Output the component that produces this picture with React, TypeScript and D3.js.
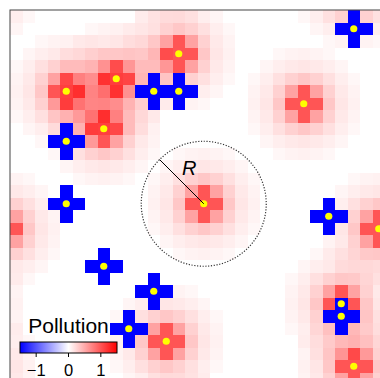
import React from "react";
import * as d3 from "d3";

// Grid: 30 x 30 toroidal cells
const N = 30;
// Polluting sources (red) – row / column of centre cell
const redRows = [3, 5, 6, 9, 7, 15, 17, 26, 23, 28];
const redCols = [13, 8, 4, 7, 23, 15, 29, 12, 26, 27];
// Cleaning sources (blue crosses)
const blueRows = [10, 6, 6, 1, 15, 20, 22, 25, 16, 24];
const blueCols = [4, 11, 13, 27, 4, 7, 11, 9, 25, 26];
// Pollution contribution of a source, read by squared cell distance
const kernelD2 = [0, 1, 2, 4, 5, 8, 9, 10, 13, 16, 17, 18, 20];
const kernelVal = [1.0, 1.0, 0.55, 0.33, 0.27, 0.18, 0.15, 0.13, 0.1, 0.08, 0.07, 0.06, 0.05];
const cleanValue = -1.5;
// Colour bar
const cbarDomain = [-1.5, 1.5];
const cbarTicks = [-1, 0, 1];
const radiusCells = 5;

const W = 380;
const H = 378;
const x0 = 10;
const y0 = 10;
const size = 375;
const font = "'Liberation Sans', Arial, Helvetica, sans-serif";

function torusDist(a: number, b: number) {
  const d = Math.abs(a - b);
  return Math.min(d, N - d);
}

export default function App() {
  const x = d3.scaleLinear().domain([0, N]).range([x0, x0 + size]);
  const y = d3.scaleLinear().domain([0, N]).range([y0, y0 + size]);
  const cell = x(1) - x(0);
  const color = d3
    .scaleLinear<string>()
    .domain([-1.5, 0, 1.5])
    .range(["#0000ff", "#ffffff", "#ff0000"])
    .interpolate(d3.interpolateRgb)
    .clamp(true);

  const kernel = new Map<number, number>();
  kernelD2.forEach((d2, i) => kernel.set(d2, kernelVal[i]));

  const field: number[][] = d3.range(N).map(() => d3.range(N).map(() => 0));
  for (let r = 0; r < N; r++) {
    for (let c = 0; c < N; c++) {
      let v = 0;
      redRows.forEach((rr, i) => {
        const dr = torusDist(r, rr);
        const dc = torusDist(c, redCols[i]);
        v += kernel.get(dr * dr + dc * dc) ?? 0;
      });
      field[r][c] = v;
    }
  }
  const plus = [
    [0, 0],
    [1, 0],
    [-1, 0],
    [0, 1],
    [0, -1],
  ];
  blueRows.forEach((br, i) => {
    plus.forEach(([dr, dc]) => {
      const r = (br + dr + N) % N;
      const c = (blueCols[i] + dc + N) % N;
      field[r][c] = cleanValue;
    });
  });

  const cells: { r: number; c: number; v: number }[] = [];
  for (let r = 0; r < N; r++) for (let c = 0; c < N; c++) cells.push({ r, c, v: field[r][c] });

  const centres = [
    ...redRows.map((r, i) => ({ r, c: redCols[i] })),
    ...blueRows.map((r, i) => ({ r, c: blueCols[i] })),
  ];

  // circle around source at index 5
  const cx = x(redCols[5] + 0.5);
  const cy = y(redRows[5] + 0.5);
  const rad = cell * radiusCells;
  const ang = (-135 * Math.PI) / 180;

  const cb = d3.scaleLinear().domain(cbarDomain).range([20, 117]);

  return (
    <svg
      width={W}
      height={H}
      style={{ position: "fixed", left: 0, top: 0, background: "#fff" }}
    >
      <defs>
        <clipPath id="plotclip">
          <rect x={x0} y={y0} width={size} height={size} />
        </clipPath>
        <linearGradient id="cbgrad" x1="0" x2="1" y1="0" y2="0">
          <stop offset="0%" stopColor="#0000ff" />
          <stop offset="50%" stopColor="#ffffff" />
          <stop offset="100%" stopColor="#ff0000" />
        </linearGradient>
      </defs>
      <g clipPath="url(#plotclip)">
        {cells.map((d) => (
          <rect
            key={`${d.r}-${d.c}`}
            x={x(d.c)}
            y={y(d.r)}
            width={cell + 0.3}
            height={cell + 0.3}
            fill={color(d.v)}
            shapeRendering="crispEdges"
          />
        ))}
        {centres.map((d, i) => (
          <circle key={i} cx={x(d.c + 0.5)} cy={y(d.r + 0.5)} r={3.6} fill="#ffff00" />
        ))}
        <circle
          cx={cx}
          cy={cy}
          r={rad}
          fill="none"
          stroke="#333"
          strokeWidth={1.2}
          strokeDasharray="1.2 1.6"
        />
        <line
          x1={cx}
          y1={cy}
          x2={cx + rad * Math.cos(ang)}
          y2={cy + rad * Math.sin(ang)}
          stroke="#000"
          strokeWidth={1}
        />
        <text x={182} y={175} fontFamily={font} fontStyle="italic" fontSize={20} fill="#000">
          R
        </text>
      </g>
      <rect x={x0} y={y0} width={size} height={size} fill="none" stroke="#444" strokeWidth={1} />
      {/* legend */}
      <text x={68.5} y={333} textAnchor="middle" fontFamily={font} fontSize={21} fill="#000">
        Pollution
      </text>
      <rect x={20} y={342} width={97} height={11} fill="url(#cbgrad)" stroke="#000" strokeWidth={1} />
      {cbarTicks.map((t) => (
        <g key={t}>
          <line x1={cb(t)} x2={cb(t)} y1={353} y2={357} stroke="#000" strokeWidth={1} />
          <text x={cb(t)} y={376} textAnchor="middle" fontFamily={font} fontSize={16.5} fill="#000">
            {t < 0 ? `\u2212${Math.abs(t)}` : `${t}`}
          </text>
        </g>
      ))}
    </svg>
  );
}
